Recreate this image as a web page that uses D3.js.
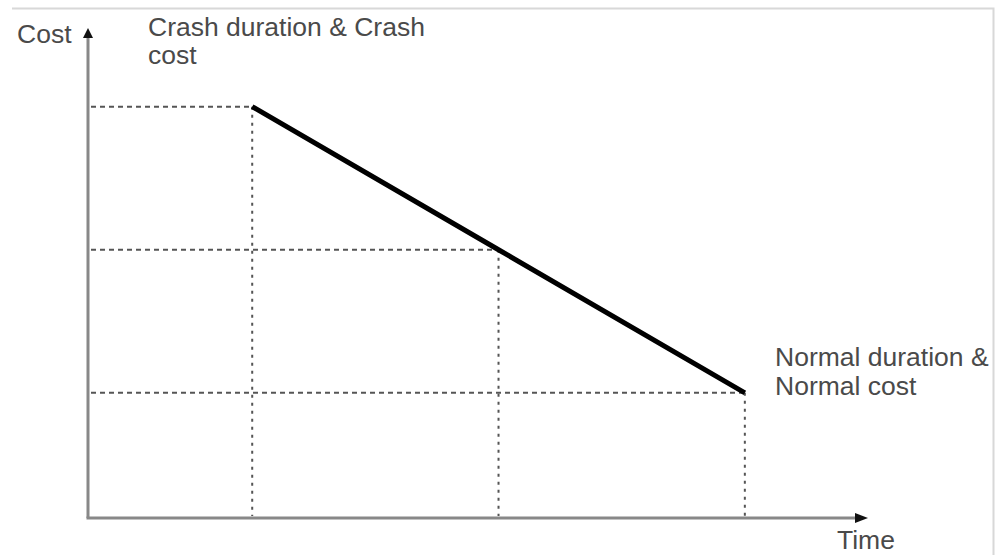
<!DOCTYPE html>
<html>
<head>
<meta charset="utf-8">
<script src="https://cdn.jsdelivr.net/npm/d3@7"></script>
<style>
  html, body { margin: 0; padding: 0; background: #fff; }
  svg { display: block; }
  text { font-family: "Liberation Sans", Arial, sans-serif; fill: #4a4a4a; }
</style>
</head>
<body>
<svg id="chart" width="996" height="555"></svg>
<script>
// Data (abstract time-cost trade-off diagram)
const pointNames = ["Crash", "Intermediate", "Normal"];
const times = [2, 5, 8];
const costs = [6, 4, 2];
const axisLabels = { y: "Cost", x: "Time" };
const crashLabel = ["Crash duration & Crash", "cost"];
const normalLabel = ["Normal duration &", "Normal cost"];

const svg = d3.select("#chart");
const W = 996, H = 555;

// frame (light border at top and right)
svg.append("path")
  .attr("d", `M12,8.5 H993.5 V${H}`)
  .attr("fill", "none").attr("stroke", "#d8d8d8").attr("stroke-width", 2);

const x = d3.scaleLinear().domain([0, 9.5]).range([88, 868]);
const y = d3.scaleLinear().domain([0.25, 7.1]).range([518, 28]);

const pts = times.map((t, i) => ({ t, c: costs[i], name: pointNames[i] }));

// guide lines
const g = svg.append("g");
g.selectAll("line.h").data(pts).join("line")
  .attr("class", "h")
  .attr("x1", x(0) + 3).attr("x2", d => x(d.t))
  .attr("y1", d => y(d.c)).attr("y2", d => y(d.c))
  .attr("stroke", "#555").attr("stroke-width", 2).attr("stroke-dasharray", "5,4");
g.selectAll("line.v").data(pts).join("line")
  .attr("class", "v")
  .attr("x1", d => x(d.t)).attr("x2", d => x(d.t))
  .attr("y1", d => y(d.c)).attr("y2", y.range()[0] - 2)
  .attr("stroke", "#555").attr("stroke-width", 2).attr("stroke-dasharray", "3,5");

// axes
const x0 = x(0), y0 = y.range()[0];
const xEnd = x.range()[1], yTop = y.range()[1];
svg.append("line").attr("x1", x0).attr("y1", y0).attr("x2", x0).attr("y2", yTop + 8)
  .attr("stroke", "#888").attr("stroke-width", 3);
svg.append("line").attr("x1", x0 - 1.5).attr("y1", y0).attr("x2", xEnd - 10).attr("y2", y0)
  .attr("stroke", "#888").attr("stroke-width", 3);
// arrowheads
svg.append("path").attr("d", `M${x0},${yTop} L${x0 - 5},${yTop + 10} L${x0 + 5},${yTop + 10} Z`).attr("fill", "#111");
svg.append("path").attr("d", `M${xEnd},${y0} L${xEnd - 13},${y0 - 5} L${xEnd - 13},${y0 + 5} Z`).attr("fill", "#111");

// main cost line
svg.append("path")
  .datum(pts)
  .attr("d", d3.line().x(d => x(d.t)).y(d => y(d.c)))
  .attr("fill", "none").attr("stroke", "#000").attr("stroke-width", 5)
  .attr("stroke-linecap", "butt");

// labels
const fs = 26.5;
svg.append("text").attr("x", 17).attr("y", 43).attr("font-size", fs).text(axisLabels.y);
svg.append("text").attr("x", 837).attr("y", 549).attr("font-size", fs).text(axisLabels.x);
const cl = svg.append("text").attr("x", 148).attr("y", 36).attr("font-size", fs);
crashLabel.forEach((s, i) => cl.append("tspan").attr("x", 148).attr("dy", i ? 28 : 0).text(s));
const nl = svg.append("text").attr("x", 775).attr("y", 366).attr("font-size", fs);
normalLabel.forEach((s, i) => nl.append("tspan").attr("x", 775).attr("dy", i ? 29 : 0).text(s));
</script>
</body>
</html>
